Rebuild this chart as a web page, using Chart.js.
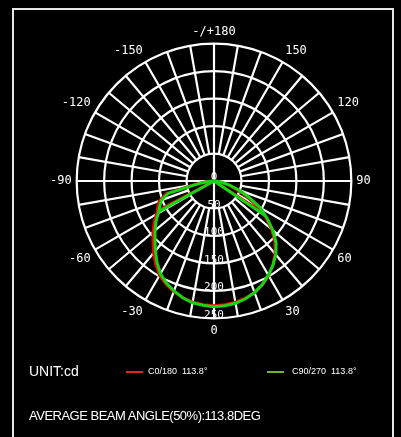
<!DOCTYPE html>
<html>
<head>
<meta charset="utf-8">
<script src="https://cdn.jsdelivr.net/npm/chart.js@4.4.0/dist/chart.umd.min.js"></script>
<style>
  html, body { margin: 0; padding: 0; background: #000; }
  #wrap { position: relative; width: 401px; height: 437px; overflow: hidden; background: #000; }
  #frame { position: absolute; left: 12px; top: 8px; width: 378px; height: 440px; border: 2px solid #e6e6e6; }
  #polar { position: absolute; left: 0; top: 0; }
  .txt { position: absolute; color: #fff; font-family: "Liberation Sans", Arial, sans-serif; white-space: pre; }
  .key { position: absolute; height: 2px; width: 17px; }
</style>
</head>
<body>
<div id="wrap">
  <div id="frame"></div>
  <canvas id="polar" width="401" height="437"></canvas>
  <div class="txt" style="left:29px; top:363px; font-size:14px; line-height:16px;">UNIT:cd</div>
  <div class="key" style="left:126px; top:371px; background:#e0251c;"></div>
  <div class="txt" style="left:148px; top:366px; font-size:9px; line-height:10px;">C0/180  113.8°</div>
  <div class="key" style="left:267px; top:371px; background:#6fb52c;"></div>
  <div class="txt" style="left:292px; top:366px; font-size:9px; line-height:10px;">C90/270  113.8°</div>
  <div class="txt" style="left:29px; top:408px; font-size:13px; line-height:16px; letter-spacing:-0.5px;">AVERAGE BEAM ANGLE(50%):113.8DEG</div>
</div>
<script>
// Rótulos dos ângulos (a cada 30°, sentido horário a partir do topo)
const ANGLE_LABELS = ['-/+180', '150', '120', '90', '60', '30', '0', '-30', '-60', '-90', '-120', '-150'];
// Rótulos dos anéis (cd)
const RING_LABELS = [0, 50, 100, 150, 200, 250];

// Ângulo gama (graus) das curvas, de -90 a 90
const GAMMA = [-90, -85, -80, -75, -70, -65, -60, -55, -50, -45, -40, -35, -30, -25, -20, -15, -10, -5, 0,
  5, 10, 15, 20, 25, 30, 35, 40, 45, 50, 55, 60, 65, 70, 75, 80, 85, 90];

// Intensidade (cd) - plano C0/180
const C0_180 = [0, 12, 34, 90, 106, 113, 121, 133, 145, 157, 171, 185, 198, 207, 214, 220, 224, 226, 227,
  226, 224, 221, 216, 209, 199, 187, 173, 157, 137, 115, 92, 64, 42, 26, 14, 5, 0];
// Intensidade (cd) - plano C90/270
const C90_270 = [0, 10, 30, 86, 102, 109, 117, 129, 140, 152, 166, 181, 195, 205, 213, 220, 225, 227, 229,
  228, 226, 222, 216, 208, 198, 187, 175, 160, 140, 118, 97, 70, 48, 30, 16, 6, 0];

// Traços radiais saindo do centro (gama, cd)
const CHORD_GAMMA_C0 = [-62, 57];
const CHORD_C0 = [118, 106];
const CHORD_GAMMA_C90 = [-61, 56];
const CHORD_C90 = [115, 113];

// 1 rótulo por grau: índice 0 no topo (+180), sentido horário
const labels = [];
for (let i = 0; i < 360; i++) labels.push(180 - i);

function arcData(values) {
  const arr = new Array(360).fill(null);
  GAMMA.forEach((g, k) => { arr[180 - g] = values[k]; });
  return arr;
}

function chordData(gammas, values) {
  const arr = new Array(360).fill(null);
  gammas.forEach((g, k) => {
    arr[180 - g] = values[k];
    arr[180 - (g + Math.sign(g))] = 0;
  });
  return arr;
}

// Rótulos 0..250 desenhados no eixo de baixo (0°)
const ringLabels = {
  id: 'ringLabels',
  beforeDatasetsDraw(chart) {
    const s = chart.scales.r;
    const ctx = chart.ctx;
    ctx.save();
    ctx.fillStyle = '#fff';
    ctx.font = '11px "DejaVu Sans Mono"';
    ctx.textAlign = 'center';
    ctx.textBaseline = 'middle';
    RING_LABELS.forEach(v => {
      const d = s.getDistanceFromCenterForValue(v);
      ctx.fillText(String(v), s.xCenter, s.yCenter + d - 3.5);
    });
    ctx.restore();
  }
};

const GREEN = '#12d612';
const RED = '#f20000';

new Chart(document.getElementById('polar'), {
  type: 'radar',
  data: {
    labels: labels,
    datasets: [
      { label: 'C90/270', data: arcData(C90_270), borderColor: GREEN, spanGaps: true },
      { label: 'C90/270 r', data: chordData(CHORD_GAMMA_C90, CHORD_C90), borderColor: GREEN, spanGaps: false },
      { label: 'C0/180', data: arcData(C0_180), borderColor: RED, spanGaps: true },
      { label: 'C0/180 r', data: chordData(CHORD_GAMMA_C0, CHORD_C0), borderColor: RED, spanGaps: false }
    ]
  },
  options: {
    responsive: false,
    animation: false,
    layout: { padding: { left: 47, top: 17, right: 26, bottom: 92 } },
    elements: {
      line: { borderWidth: 3, tension: 0, fill: false },
      point: { radius: 0, hoverRadius: 0 }
    },
    plugins: { legend: { display: false }, tooltip: { enabled: false } },
    scales: {
      r: {
        min: 0,
        max: 250,
        startAngle: 0,
        ticks: { display: false, stepSize: 50 },
        grid: { color: '#fff', lineWidth: 2.2, circular: true },
        angleLines: {
          color: '#fff',
          lineWidth: ctx => (ctx.index % 10 === 0 ? 2.2 : 0),
          // só os eixos principais atravessam o círculo de 50
          borderDash: ctx => {
            if (ctx.index % 90 === 0) return [];
            const r50 = ctx.chart.scales.r.getDistanceFromCenterForValue(50);
            return [0, r50, 2000, 0];
          }
        },
        pointLabels: {
          color: '#fff',
          padding: 5,
          font: { family: 'DejaVu Sans Mono', size: 12 },
          callback: (lbl, i) => (i % 30 === 0 ? ANGLE_LABELS[i / 30] : '')
        }
      }
    }
  },
  plugins: [ringLabels]
});
</script>
</body>
</html>
